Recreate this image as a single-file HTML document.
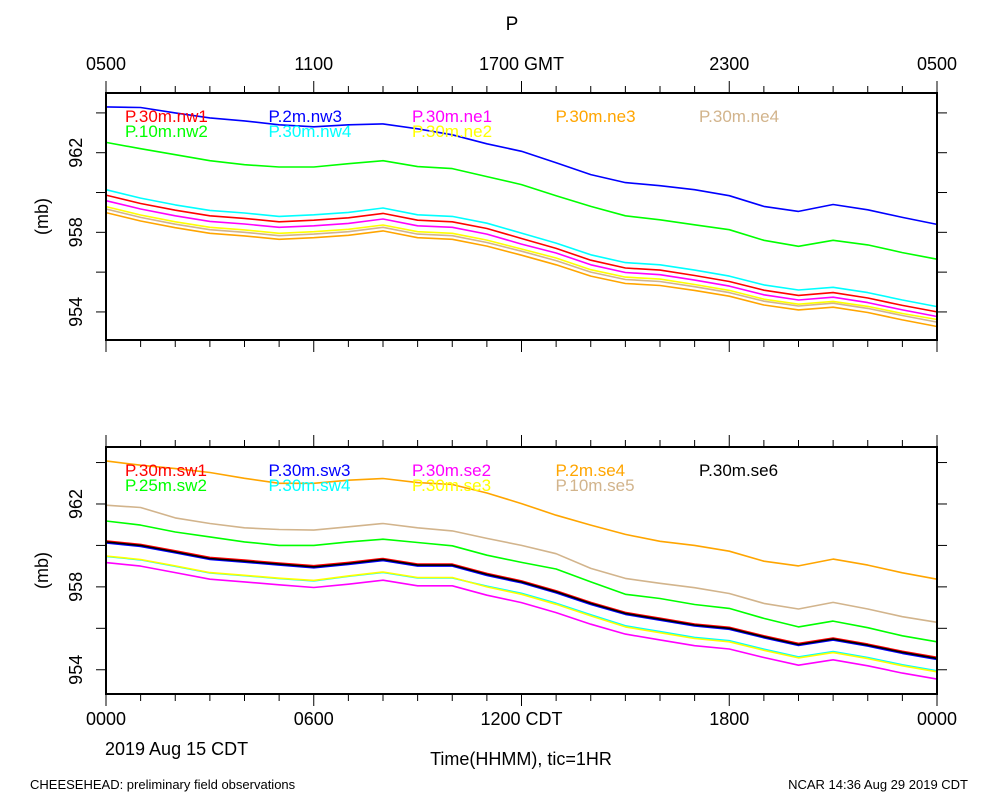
<!DOCTYPE html>
<html><head><meta charset="utf-8"><style>
html,body{margin:0;padding:0;background:#fff;}
svg{display:block;font-family:"Liberation Sans",sans-serif;}
</style></head><body>
<svg id="chart" width="1000" height="800" viewBox="0 0 1000 800" xmlns="http://www.w3.org/2000/svg">
<text x="512" y="30" font-size="19" text-anchor="middle">P</text>
<text x="30" y="789" font-size="13">CHEESEHEAD: preliminary field observations</text>
<text x="968" y="789" font-size="13" text-anchor="end">NCAR 14:36 Aug 29 2019 CDT</text>
<text x="105" y="755" font-size="18">2019 Aug 15 CDT</text>
<text x="521" y="765" font-size="18" text-anchor="middle">Time(HHMM), tic=1HR</text>
</svg>
<script>
const hours = [0,1,2,3,4,5,6,7,8,9,10,11,12,13,14,15,16,17,18,19,20,21,22,23,24];
const topLabels = ["0500","1100","1700 GMT","2300","0500"];
const bottomLabels = ["0000","0600","1200 CDT","1800","0000"];
const yTicks = [954,956,958,960,962,964];
const yLabelTicks = [954,958,962];

const topNames = ["P.30m.nw1","P.2m.nw3","P.30m.ne1","P.30m.ne3","P.30m.ne4","P.10m.nw2","P.30m.nw4","P.30m.ne2"];
const topColors = ["#ff0000","#0000ff","#ff00ff","#ffa500","#d2b48c","#00ff00","#00ffff","#ffff00"];
const nw1 = [959.87,959.45,959.11,958.83,958.70,958.53,958.61,958.73,958.95,958.61,958.53,958.19,957.69,957.19,956.60,956.21,956.10,955.83,955.53,955.09,954.83,954.97,954.70,954.33,954.00];
const nw3 = [964.30,964.27,964.00,963.75,963.60,963.40,963.30,963.40,963.45,963.20,962.90,962.45,962.07,961.50,960.90,960.50,960.34,960.14,959.84,959.30,959.05,959.40,959.13,958.75,958.40];
const ne1 = [959.59,959.17,958.83,958.55,958.42,958.25,958.33,958.45,958.67,958.33,958.25,957.91,957.41,956.96,956.37,955.98,955.87,955.60,955.30,954.86,954.60,954.74,954.47,954.10,953.77];
const ne3 = [958.99,958.57,958.23,957.95,957.82,957.65,957.73,957.85,958.07,957.73,957.65,957.31,956.85,956.37,955.80,955.43,955.33,955.08,954.79,954.35,954.10,954.24,953.97,953.60,953.27];
const ne4 = [959.17,958.75,958.41,958.13,958.00,957.83,957.91,958.03,958.25,957.91,957.83,957.49,957.05,956.58,956.00,955.63,955.53,955.27,954.97,954.54,954.30,954.44,954.18,953.82,953.49];
const nw2 = [962.52,962.20,961.90,961.60,961.40,961.28,961.28,961.45,961.60,961.30,961.20,960.80,960.40,959.84,959.30,958.83,958.63,958.38,958.13,957.60,957.30,957.60,957.37,956.98,956.65];
const nw4 = [960.14,959.72,959.38,959.10,958.97,958.80,958.88,959.00,959.22,958.88,958.80,958.46,957.96,957.46,956.87,956.48,956.37,956.10,955.80,955.36,955.10,955.24,954.97,954.60,954.27];
const ne2 = [959.29,958.87,958.53,958.25,958.12,957.95,958.03,958.15,958.37,958.03,957.95,957.61,957.16,956.71,956.12,955.75,955.65,955.38,955.08,954.64,954.39,954.53,954.28,953.92,953.62];

const botNames = ["P.30m.sw1","P.30m.sw3","P.30m.se2","P.2m.se4","P.30m.se6","P.25m.sw2","P.30m.sw4","P.30m.se3","P.10m.se5"];
const botColors = ["#ff0000","#0000ff","#ff00ff","#ffa500","#000000","#00ff00","#00ffff","#ffff00","#d2b48c"];
const sw1 = [960.22,960.05,959.74,959.42,959.29,959.15,959.02,959.18,959.37,959.10,959.10,958.65,958.29,957.81,957.25,956.77,956.49,956.21,956.05,955.64,955.27,955.53,955.24,954.89,954.60];
const sw3 = [960.12,959.95,959.64,959.32,959.19,959.05,958.92,959.08,959.27,959.00,959.00,958.55,958.19,957.71,957.15,956.67,956.39,956.11,955.95,955.54,955.17,955.43,955.14,954.79,954.50];
const se2 = [959.17,959.00,958.69,958.37,958.24,958.10,957.97,958.13,958.32,958.05,958.05,957.60,957.24,956.76,956.20,955.72,955.44,955.16,955.00,954.59,954.22,954.48,954.19,953.84,953.55];
const se4 = [964.08,963.87,963.71,963.52,963.24,963.00,963.00,963.15,963.23,963.03,962.94,962.53,962.02,961.46,960.98,960.53,960.20,960.00,959.72,959.24,959.01,959.34,959.05,958.68,958.37];
const se6 = [960.17,960.00,959.69,959.37,959.24,959.10,958.97,959.13,959.32,959.05,959.05,958.60,958.24,957.76,957.20,956.72,956.44,956.16,956.00,955.59,955.22,955.48,955.19,954.84,954.55];
const sw2 = [961.18,960.98,960.65,960.41,960.17,960.00,960.00,960.17,960.30,960.14,959.98,959.53,959.18,958.86,958.24,957.64,957.44,957.15,956.96,956.48,956.07,956.35,956.03,955.64,955.35];
const sw4 = [959.47,959.30,958.99,958.67,958.54,958.40,958.29,958.51,958.70,958.43,958.43,958.03,957.69,957.21,956.65,956.12,955.84,955.56,955.40,954.99,954.62,954.88,954.59,954.24,953.95];
const se3 = [959.49,959.32,959.01,958.69,958.56,958.42,958.31,958.53,958.72,958.45,958.45,958.00,957.64,957.16,956.60,956.07,955.79,955.51,955.35,954.94,954.57,954.83,954.54,954.19,953.90];
const se5 = [961.94,961.83,961.33,961.06,960.85,960.77,960.74,960.90,961.06,960.85,960.70,960.34,960.00,959.60,958.89,958.41,958.17,957.96,957.68,957.20,956.93,957.25,956.93,956.56,956.29];

const svg = document.getElementById('chart');
const NS = 'http://www.w3.org/2000/svg';
function mk(tag, attrs, parent){const e=document.createElementNS(NS,tag);for(const k in attrs)e.setAttribute(k,attrs[k]);(parent||svg).appendChild(e);return e;}

const X0=106, X1=937;
function xScale(h){return X0+(X1-X0)*h/24;}

function panel(cfg){
  const g=mk('g',{});
  
  
  const y=v=>cfg.yb+(v-cfg.vmin)*(cfg.yt-cfg.yb)/(cfg.vmax-cfg.vmin);
  // series
  cfg.series.forEach((s,i)=>{
    const d=hours.map((h,j)=>(j?'L':'M')+xScale(h).toFixed(1)+','+y(s[j]).toFixed(1)).join(' ');
    const p=mk('path',{d:d,fill:'none',stroke:cfg.colors[i],'stroke-width':1.6,'stroke-linejoin':'round'},g);
    
    
  });
  // legend
  cfg.names.forEach((n,i)=>{
    const row=i<cfg.perRow?0:1, col=row?i-cfg.perRow:i;
    const t=mk('text',{x:125+col*143.5,y:cfg.yt+29+row*15,'font-size':17,fill:cfg.colors[i]},g);
    t.textContent=n;
    
    
  });
  // box
  const b=mk('rect',{x:X0,y:cfg.yt,width:X1-X0,height:cfg.yb-cfg.yt,fill:'none',stroke:'#000','stroke-width':2},g);
  
  
  // x ticks
  hours.forEach(h=>{
    const x=xScale(h), L=h%6===0?12:7;
    mk('line',{x1:x,x2:x,y1:cfg.yb,y2:cfg.yb+L,stroke:'#000','stroke-width':1},g);
    mk('line',{x1:x,x2:x,y1:cfg.yt,y2:cfg.yt-L,stroke:'#000','stroke-width':1},g);
  });
  // y ticks
  yTicks.forEach(v=>{
    const yy=y(v);
    mk('line',{x1:X0,x2:X0-10,y1:yy,y2:yy,stroke:'#000','stroke-width':1},g);
    mk('line',{x1:X1,x2:X1+10,y1:yy,y2:yy,stroke:'#000','stroke-width':1},g);
  });
  yLabelTicks.forEach(v=>{
    const yy=y(v);
    const t=mk('text',{x:0,y:0,'font-size':18,'text-anchor':'middle',transform:'translate(82,'+yy.toFixed(1)+') rotate(-90)'},g);
    t.textContent=String(v);
    
    
  });
  const yt=mk('text',{x:0,y:0,'font-size':18,'text-anchor':'middle',transform:'translate(48,'+((cfg.yt+cfg.yb)/2).toFixed(1)+') rotate(-90)'},g);
  yt.textContent='(mb)';
  
  
  if(cfg.xlabels){
    cfg.xlabels.forEach((l,i)=>{
      const t=mk('text',{x:xScale(i*6),y:cfg.xlabelY,'font-size':18,'text-anchor':'middle'},g);
      t.textContent=l;
      
      
    });
  }
}

panel({name:'top-panel',yt:93,yb:340,vmin:952.59,vmax:965.0,
  series:[nw1,nw3,ne1,ne3,ne4,nw2,nw4,ne2],names:topNames,colors:topColors,perRow:5,
  xlabels:topLabels,xlabelY:70});
panel({name:'bottom-panel',yt:447,yb:694,vmin:952.83,vmax:964.75,
  series:[sw1,sw3,se2,se4,se6,sw2,sw4,se3,se5],names:botNames,colors:botColors,perRow:5,
  xlabels:bottomLabels,xlabelY:725});
</script>
</body></html>
